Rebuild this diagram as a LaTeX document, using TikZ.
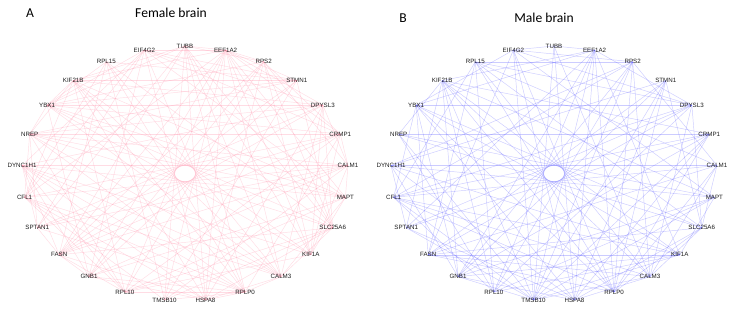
\documentclass[tikz,border=0pt]{standalone}
\usepackage{fontspec}
\setmainfont{Liberation Sans}
\newfontfamily\titlefont{Carlito}
\definecolor{pinkline}{RGB}{255,130,160}
\definecolor{blueline}{RGB}{60,60,255}
\definecolor{labtext}{RGB}{30,30,30}
\tikzset{
  lab/.style={inner sep=0pt, text=labtext, font=\fontsize{6.2}{7}\selectfont},
  pinkedge/.style={draw=pinkline, opacity=0.28, line width=0.45pt},
  blueedge/.style={draw=blueline, opacity=0.26, line width=0.45pt},
  ttl/.style={inner sep=0pt, font=\titlefont\fontsize{13.6}{15}\selectfont}
}
\begin{document}
\begin{tikzpicture}[x=1pt,y=-1pt]
\useasboundingbox[fill=white] (0,0) rectangle (735,310);
\node[ttl] (tA) at (30,13) {A};
\node[ttl] (tF) at (171,13) {Female brain};
\node[ttl] (tB) at (403,18) {B};
\node[ttl] (tM) at (544,18) {Male brain};
\foreach \i in {0,...,24}{
  \pgfmathsetmacro\ang{90-14.4*\i}
  \coordinate (L\i) at ({185+163.3*cos(\ang)},{173.5-127.5*sin(\ang)});
  \coordinate (R\i) at ({554+163.3*cos(\ang)},{173.5-127.5*sin(\ang)});
}
% female network (pink)
\foreach \i in {0,...,24}{
  \draw[pinkedge] (L\i) -- (L\the\numexpr\ifnum\i<13 \i+12\else\i-13\fi\relax);
  \foreach \k in {1,...,11}{
    \pgfmathtruncatemacro\h{mod(\i*17+\k*\k*11+\i*\k*5,10)}
    \pgfmathtruncatemacro\j{mod(\i+\k,25)}
    \ifnum\h<5 \draw[pinkedge] (L\i) -- (L\j);\fi
  }
}
% male network (blue)
\foreach \i in {0,...,24}{
  \pgfmathtruncatemacro\j{mod(\i+12,25)}
  \draw[blueedge] (R\i) -- (R\j);
}
\foreach \a/\b in {0/1,0/24,23/2,21/4,16/9,
  13/2,13/3,13/5,13/7,13/9,13/10,13/15,13/17,13/18,13/20,13/22,13/24,
  12/1,12/3,12/5,12/8,12/10,12/15,12/17,12/19,12/21,
  10/0,10/2,10/4,10/6,10/8,10/16,10/18,
  15/1,15/5,15/7,15/9,15/19,15/21,15/22,
  18/2,18/4,18/9,18/11,18/21,18/23,
  22/1,22/5,22/7,22/11,22/14,22/17,
  23/4,23/6,23/8,23/14,23/16,
  24/2,24/4,24/7,24/16,24/21,
  1/4,1/9,1/11,1/17,1/21,
  2/6,2/11,2/19,
  3/8,3/11,3/19,
  4/8,4/14,
  5/11,5/20,
  6/8,6/11,6/16,
  7/9,7/14,
  8/11,8/16,
  9/14,9/19,
  11/16,11/21,
  14/18,14/20,
  16/21,17/19,20/22}{
  \draw[blueedge] (R\a) -- (R\b);
}
\foreach \i/\nm in {0/TUBB,1/EEF1A2,2/RPS2,3/STMN1,4/DPYSL3,5/CRMP1,6/CALM1,7/MAPT,8/SLC25A6,9/KIF1A,10/CALM3,11/RPLP0,12/HSPA8,13/TMSB10,14/RPL10,15/GNB1,16/FASN,17/SPTAN1,18/CFL1,19/DYNC1H1,20/NREP,21/YBX1,22/KIF21B,23/RPL15,24/EIF4G2}{
  \node[lab] (LT\i) at (L\i) {\nm};
  \node[lab] (RT\i) at (R\i) {\nm};
}
\end{tikzpicture}
\end{document}
